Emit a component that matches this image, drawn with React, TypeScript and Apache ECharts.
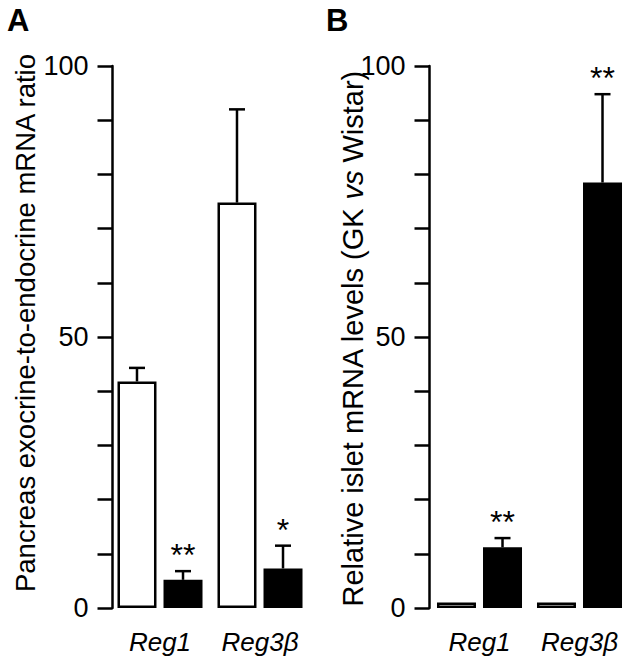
import React, { useEffect, useRef } from "react";
import * as echarts from "echarts";

const categories = ["Reg1", "Reg3β"];
// Panel A: pancreas exocrine-to-endocrine mRNA ratio
const aWistar = [41.8, 74.8];
const aWistarSem = [2.5, 17.2];
const aGK = [5.2, 7.3];
const aGKSem = [1.6, 4.2];
const aStars = ["**", "*"];
// Panel B: relative islet mRNA levels (GK vs Wistar)
const bWistar = [1, 1];
const bWistarSem = [0, 0];
const bGK = [11.2, 78.5];
const bGKSem = [1.7, 16.3];
const bStars = ["**", "**"];

const yTicks = [0, 50, 100];

const FONT = "'Liberation Sans', Arial, Helvetica, sans-serif";
const BAR_W = 39;
const BAR_GAP = 0.18;
const HALF = (BAR_W * (1 + BAR_GAP)) / 2;

function errSeries(gridIdx: number, means: number[], sems: number[], stars: string[] | null, side: number) {
  return {
    type: "custom",
    xAxisIndex: gridIdx,
    yAxisIndex: gridIdx,
    z: 10,
    silent: true,
    data: means.map((m, i) => [i, m, m + sems[i]]),
    renderItem: (params: any, api: any) => {
      const i = api.value(0);
      const mean = api.value(1);
      const top = api.value(2);
      const x = api.coord([i, 0])[0] + side * HALF;
      const y0 = api.coord([i, mean])[1];
      const y1 = api.coord([i, top])[1];
      const children: any[] = [];
      if (top > mean) {
        children.push({
          type: "line",
          shape: { x1: x, y1: y0, x2: x, y2: y1 },
          style: { stroke: "#000", lineWidth: 2.5 },
        });
        children.push({
          type: "line",
          shape: { x1: x - 8, y1: y1, x2: x + 8, y2: y1 },
          style: { stroke: "#000", lineWidth: 2.5 },
        });
      }
      if (stars && stars[params.dataIndex]) {
        children.push({
          type: "text",
          x: x,
          y: y1 - 16,
          style: {
            text: stars[params.dataIndex],
            fontSize: 32,
            fontFamily: FONT,
            fill: "#000",
            align: "center",
            verticalAlign: "middle",
          },
        });
      }
      return { type: "group", children };
    },
  };
}

function barSeries(gridIdx: number, values: number[], fill: string) {
  return {
    type: "bar",
    xAxisIndex: gridIdx,
    yAxisIndex: gridIdx,
    data: values,
    barWidth: BAR_W,
    barGap: BAR_GAP * 100 + "%",
    itemStyle: { color: fill, borderColor: "#000", borderWidth: 2.5 },
    silent: true,
  };
}

function yAxisDef(gridIdx: number, offset: number) {
  return {
    type: "value",
    gridIndex: gridIdx,
    min: 0,
    max: 100,
    interval: 10,
    offset,
    axisLine: { show: true, lineStyle: { color: "#000", width: 2.5 } },
    axisTick: { show: true, length: 15, lineStyle: { color: "#000", width: 2.5 } },
    splitLine: { show: false },
    axisLabel: {
      color: "#000",
      fontSize: 27,
      fontFamily: FONT,
      margin: 24,
      formatter: (v: number) => (yTicks.includes(v) ? String(v) : ""),
    },
  };
}

function xAxisDef(gridIdx: number) {
  return {
    type: "category",
    gridIndex: gridIdx,
    data: categories,
    axisLine: { show: false },
    axisTick: { show: false },
    axisLabel: {
      color: "#000",
      fontSize: 26,
      fontStyle: "italic",
      fontFamily: FONT,
      margin: 21,
      interval: 0,
      hideOverlap: false,
    },
  };
}

export default function App() {
  const ref = useRef<HTMLDivElement>(null);
  useEffect(() => {
    if (!ref.current) return;
    const chart = echarts.init(ref.current, null, { renderer: "svg" });
    chart.setOption({
      animation: false,
      backgroundColor: "#fff",
      grid: [
        { left: 110, top: 66, width: 200, height: 542 },
        { left: 429.5, top: 66, width: 200, height: 542 },
      ],
      xAxis: [xAxisDef(0), xAxisDef(1)],
      yAxis: [yAxisDef(0, -2.5), yAxisDef(1, 0)],
      series: [
        barSeries(0, aWistar, "#fff"),
        barSeries(0, aGK, "#000"),
        barSeries(1, bWistar, "#fff"),
        barSeries(1, bGK, "#000"),
        errSeries(0, aWistar, aWistarSem, null, -1),
        errSeries(0, aGK, aGKSem, aStars, 1),
        errSeries(1, bWistar, bWistarSem, null, -1),
        errSeries(1, bGK, bGKSem, bStars, 1),
      ],
      graphic: [
        {
          type: "text",
          left: 7,
          top: 5,
          style: { text: "A", fontSize: 31, fontWeight: "bold", fontFamily: FONT, fill: "#000" },
        },
        {
          type: "text",
          left: 326,
          top: 5,
          style: { text: "B", fontSize: 31, fontWeight: "bold", fontFamily: FONT, fill: "#000" },
        },
        {
          type: "text",
          x: 25,
          y: 323,
          rotation: Math.PI / 2,
          style: {
            text: "Pancreas exocrine-to-endocrine mRNA ratio",
            fontSize: 27.5,
            fontFamily: FONT,
            fill: "#000",
            align: "center",
            verticalAlign: "middle",
          },
        },
        {
          type: "text",
          x: 353,
          y: 339,
          rotation: Math.PI / 2,
          style: {
            text: "{n|Relative islet mRNA levels (GK }{i|vs}{n| Wistar)}",
            fontSize: 29,
            fontFamily: FONT,
            fill: "#000",
            align: "center",
            verticalAlign: "middle",
            rich: {
              n: { fontSize: 29, fontFamily: FONT, fill: "#000" },
              i: { fontSize: 29, fontFamily: FONT, fontStyle: "italic", fill: "#000" },
            },
          },
        },
      ],
    });
    return () => chart.dispose();
  }, []);
  return (
    <div
      ref={ref}
      style={{ position: "fixed", left: 0, top: 0, width: 630, height: 664 }}
    />
  );
}
